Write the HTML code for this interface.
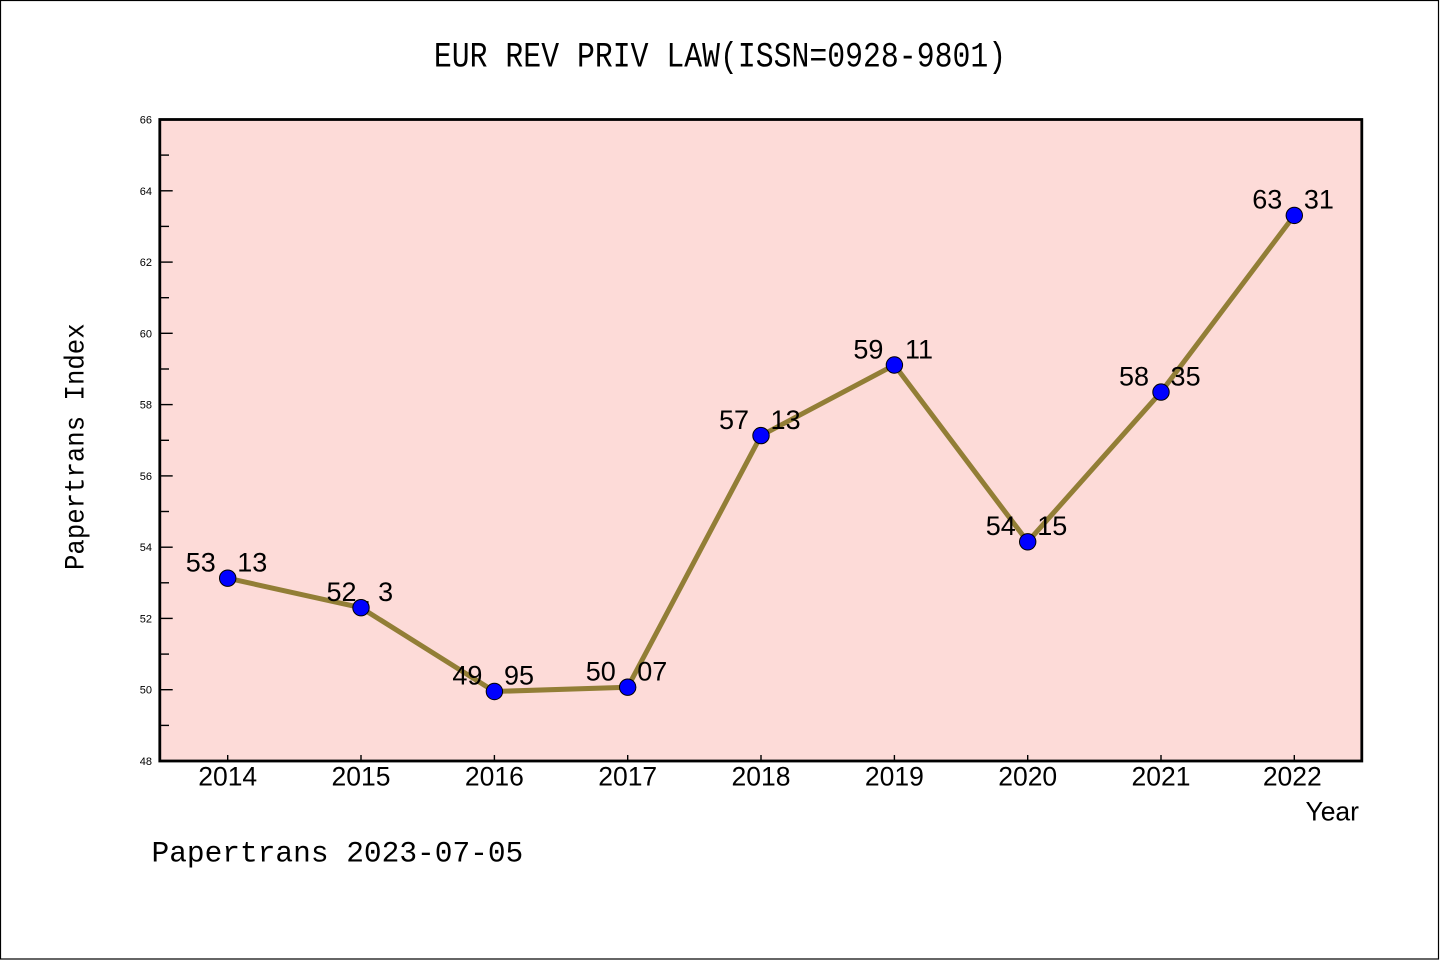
<!DOCTYPE html>
<html>
<head>
<meta charset="utf-8">
<style>
  html, body { margin:0; padding:0; background:#fff; }
  svg { display:block; }
</style>
</head>
<body>
<svg width="1440" height="960" viewBox="0 0 1440 960" xmlns="http://www.w3.org/2000/svg">
  <!-- figure background + border -->
  <rect x="0" y="0" width="1440" height="960" fill="#ffffff"/>
  <rect x="0.5" y="0.5" width="1438" height="958.5" fill="none" stroke="#000" stroke-width="1.2"/>

  <!-- title -->
  <text transform="translate(720,66.7) scale(1,1.19)" text-anchor="middle" font-family="'Liberation Mono', monospace" font-size="29.8" fill="#000">EUR REV PRIV LAW(ISSN=0928-9801)</text>

  <!-- plot background -->
  <rect x="159.8" y="119.5" width="1202" height="641.5" fill="#fddbd8"/>

  <!-- y ticks (inward) -->
  <g stroke="#000" stroke-width="1.4">
    <line x1="160" y1="761" x2="172.7" y2="761"/>
    <line x1="160" y1="725.4" x2="169" y2="725.4"/>
    <line x1="160" y1="689.7" x2="172.7" y2="689.7"/>
    <line x1="160" y1="654.1" x2="169" y2="654.1"/>
    <line x1="160" y1="618.4" x2="172.7" y2="618.4"/>
    <line x1="160" y1="582.8" x2="169" y2="582.8"/>
    <line x1="160" y1="547.2" x2="172.7" y2="547.2"/>
    <line x1="160" y1="511.5" x2="169" y2="511.5"/>
    <line x1="160" y1="475.9" x2="172.7" y2="475.9"/>
    <line x1="160" y1="440.3" x2="169" y2="440.3"/>
    <line x1="160" y1="404.6" x2="172.7" y2="404.6"/>
    <line x1="160" y1="369.0" x2="169" y2="369.0"/>
    <line x1="160" y1="333.3" x2="172.7" y2="333.3"/>
    <line x1="160" y1="297.7" x2="169" y2="297.7"/>
    <line x1="160" y1="262.1" x2="172.7" y2="262.1"/>
    <line x1="160" y1="226.4" x2="169" y2="226.4"/>
    <line x1="160" y1="190.8" x2="172.7" y2="190.8"/>
    <line x1="160" y1="155.1" x2="169" y2="155.1"/>
    <line x1="160" y1="119.5" x2="172.7" y2="119.5"/>
  </g>

  <!-- y tick labels -->
  <g font-family="'Liberation Sans', sans-serif" font-size="11" fill="#000" text-anchor="end">
    <text x="152" y="765">48</text>
    <text x="152" y="693.7">50</text>
    <text x="152" y="622.4">52</text>
    <text x="152" y="551.2">54</text>
    <text x="152" y="479.9">56</text>
    <text x="152" y="408.6">58</text>
    <text x="152" y="337.3">60</text>
    <text x="152" y="266.1">62</text>
    <text x="152" y="194.8">64</text>
    <text x="152" y="123.5">66</text>
  </g>

  <!-- x ticks (inward) -->
  <g stroke="#000" stroke-width="1.4">
    <line x1="227.7" y1="761" x2="227.7" y2="755"/>
    <line x1="361.0" y1="761" x2="361.0" y2="755"/>
    <line x1="494.4" y1="761" x2="494.4" y2="755"/>
    <line x1="627.7" y1="761" x2="627.7" y2="755"/>
    <line x1="761.0" y1="761" x2="761.0" y2="755"/>
    <line x1="894.4" y1="761" x2="894.4" y2="755"/>
    <line x1="1027.7" y1="761" x2="1027.7" y2="755"/>
    <line x1="1161.0" y1="761" x2="1161.0" y2="755"/>
    <line x1="1294.3" y1="761" x2="1294.3" y2="755"/>
  </g>

  <!-- x tick labels -->
  <g font-family="'Liberation Sans', sans-serif" font-size="26.5" fill="#000" text-anchor="middle">
    <text x="227.7" y="785.5">2014</text>
    <text x="361.0" y="785.5">2015</text>
    <text x="494.4" y="785.5">2016</text>
    <text x="627.7" y="785.5">2017</text>
    <text x="761.0" y="785.5">2018</text>
    <text x="894.4" y="785.5">2019</text>
    <text x="1027.7" y="785.5">2020</text>
    <text x="1161.0" y="785.5">2021</text>
    <text x="1292.3" y="785.5">2022</text>
  </g>

  <!-- axis labels -->
  <text x="1359" y="820.7" text-anchor="end" font-family="'Liberation Sans', sans-serif" font-size="26.5" fill="#000">Year</text>
  <text transform="translate(83.5,446.7) rotate(-90) scale(1,1.08)" text-anchor="middle" font-family="'Liberation Mono', monospace" font-size="25.7" fill="#000">Papertrans Index</text>

  <!-- data line -->
  <polyline fill="none" stroke="#927e36" stroke-width="5" stroke-linejoin="round"
    points="227.7,578.2 361.0,607.7 494.4,691.5 627.7,687.2 761.0,435.6 894.4,365.0 1027.7,541.8 1161.0,392.1 1294.3,215.4"/>

  <!-- data labels -->
  <g font-family="'Liberation Sans', sans-serif" font-size="27" fill="#000" text-anchor="middle">
    <text x="226.5" y="571.5">53<tspan dx="7" dy="3">.</tspan><tspan dx="7" dy="-3">13</tspan></text>
    <text x="359.8" y="601.0">52<tspan dx="7" dy="3">.</tspan><tspan dx="7" dy="-3">3</tspan></text>
    <text x="493.2" y="684.6">49<tspan dx="7" dy="3">.</tspan><tspan dx="7" dy="-3">95</tspan></text>
    <text x="626.5" y="680.3">50<tspan dx="7" dy="3">.</tspan><tspan dx="7" dy="-3">07</tspan></text>
    <text x="759.8" y="428.9">57<tspan dx="7" dy="3">.</tspan><tspan dx="7" dy="-3">13</tspan></text>
    <text x="893.2" y="358.3">59<tspan dx="7" dy="3">.</tspan><tspan dx="7" dy="-3">11</tspan></text>
    <text x="1026.5" y="535.1">54<tspan dx="7" dy="3">.</tspan><tspan dx="7" dy="-3">15</tspan></text>
    <text x="1159.8" y="385.4">58<tspan dx="7" dy="3">.</tspan><tspan dx="7" dy="-3">35</tspan></text>
    <text x="1293.1" y="208.7">63<tspan dx="7" dy="3">.</tspan><tspan dx="7" dy="-3">31</tspan></text>
  </g>

  <!-- markers -->
  <g fill="#0000ff" stroke="#000" stroke-width="1">
    <circle cx="227.7" cy="578.2" r="8.2"/>
    <circle cx="361.0" cy="607.7" r="8.2"/>
    <circle cx="494.4" cy="691.5" r="8.2"/>
    <circle cx="627.7" cy="687.2" r="8.2"/>
    <circle cx="761.0" cy="435.6" r="8.2"/>
    <circle cx="894.4" cy="365.0" r="8.2"/>
    <circle cx="1027.7" cy="541.8" r="8.2"/>
    <circle cx="1161.0" cy="392.1" r="8.2"/>
    <circle cx="1294.3" cy="215.4" r="8.2"/>
  </g>

  <!-- plot frame -->
  <rect x="159.8" y="119.5" width="1202" height="641.5" fill="none" stroke="#000" stroke-width="2.8"/>

  <!-- footer -->
  <text x="151.5" y="861.7" font-family="'Liberation Mono', monospace" font-size="29.5" fill="#000">Papertrans 2023-07-05</text>
</svg>
</body>
</html>
